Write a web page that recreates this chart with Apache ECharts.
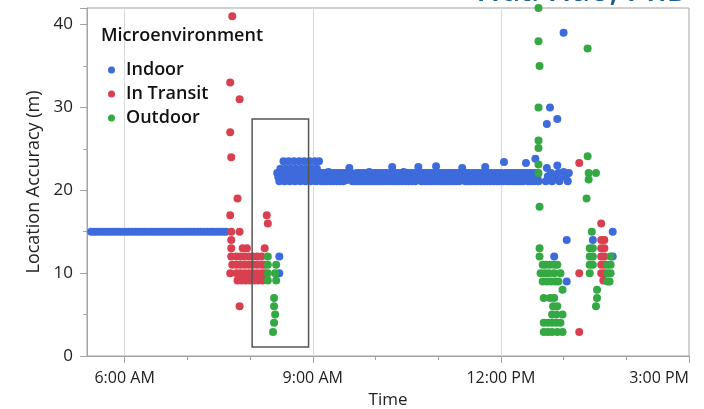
<!DOCTYPE html>
<html>
<head>
<meta charset="utf-8">
<script src="https://cdn.jsdelivr.net/npm/echarts@6/dist/echarts.min.js"></script>
<style>
  html, body { margin: 0; padding: 0; background: #fff; }
  #chart { width: 704px; height: 409px; }
</style>
</head>
<body>
<div id="chart"></div>
<script>
// Time is stored as minutes after midnight, accuracy in metres.
const xLabelTicks = [360, 540, 720, 900];          // 6 AM, 9 AM, 12 PM, 3 PM
const xMinorTicks = [420, 480, 600, 660, 780, 840];
const verticalGrid = [360, 540, 720];
const seriesNames = ['Indoor', 'In Transit', 'Outdoor'];
const highlightBox = [[482, 1.1], [536, 28.6]];    // [time, accuracy] corners

// Indoor fixes: at home before leaving, then the long office stretch, then afternoon.
const indoorHome = [
  [328,15],[331,15],[334,15],[337,15],[340,15],[343,15],[346,15],[349,15],[352,15],[355,15],
  [358,15],[361,15],[364,15],[367,15],[370,15],[373,15],[376,15],[379,15],[382,15],[385,15],
  [388,15],[391,15],[394,15],[397,15],[400,15],[403,15],[406,15],[409,15],[412,15],[415,15],
  [418,15],[421,15],[424,15],[427,15],[430,15],[433,15],[436,15],[439,15],[442,15],[445,15],
  [448,15],[451,15],[454,15],[457,15]
];

const indoorOffice = [
  [506,22.1],[507,21.6],[508,21.1],[509,22.6],[510,21.6],[511,22.1],[512,23.5],[513,21.1],[514,22.6],[515,21.6],
  [516,22.1],[517,23.5],[518,21.1],[519,22.6],[520,21.6],[521,22.1],[522,23.5],[523,21.1],[524,22.6],[525,21.6],
  [526,22.1],[527,23.5],[528,21.1],[529,22.6],[530,21.6],[531,22.1],[532,23.5],[533,21.1],[534,22.6],[535,21.6],
  [536,22.1],[537,23.5],[538,21.1],[539,22.6],[540,21.6],[541,22.1],[542,23.5],[543,21.1],[544,22.6],[545,21.6],
  [546,23.5],[547,22.1],
  [548,21.1],[549,22.1],[550,21.6],[551,21.1],[552,22.1],[553,21.6],[554,21.1],[555,22.2],[556,21.6],[557,21.1],[558,22.1],[559,21.6],
  [560,21.1],[561,22.1],[562,21.5],[563,21.1],[564,22.1],[565,21.6],[566,21.1],[567,22.1],[568,21.6],[569,21.1],[570,22.1],[571,21.6],
  [572,21.2],[573,22.1],[574,21.6],[575,22.7],[576,22.1],[577,21.6],[578,21.1],[579,22.0],[580,21.6],[581,21.1],[582,22.1],[583,21.6],
  [584,21.1],[585,22.1],[586,21.7],[587,21.1],[588,22.1],[589,21.6],[590,21.1],[591,22.1],[592,21.6],[593,21.1],[594,22.2],[595,21.6],
  [596,21.1],[597,22.1],[598,21.6],[599,21.1],[600,22.1],[601,21.6],[602,21.1],[603,22.1],[604,21.6],[605,21.1],[606,22.1],[607,21.6],
  [608,21.1],[609,22.1],[610,21.6],[611,21.1],[612,22.1],[613,21.6],[614,21.1],[615,22.1],[616,22.8],[617,21.1],[618,22.1],[619,21.6],
  [620,21.1],[621,22.1],[622,21.6],[623,21.1],[624,22.1],[625,21.6],[626,21.1],[627,22.2],[628,21.6],[629,21.1],[630,22.1],[631,21.6],
  [632,21.1],[633,22.1],[634,21.6],[635,21.1],[636,22.1],[637,21.6],[638,21.1],[639,22.1],[640,21.6],[641,22.8],[642,22.1],[643,21.6],
  [644,21.1],[645,22.1],[646,21.6],[647,21.1],[648,22.1],[649,21.6],[650,21.1],[651,22.1],[652,21.6],[653,21.1],[654,22.1],[655,21.6],
  [656,21.1],[657,22.1],[658,22.9],[659,21.1],[660,22.1],[661,21.6],[662,21.1],[663,22.1],[664,21.6],[665,21.1],[666,22.1],[667,21.6],
  [668,21.1],[669,22.1],[670,21.6],[671,21.1],[672,22.1],[673,21.6],[674,21.1],[675,22.1],[676,21.6],[677,21.1],[678,22.1],[679,21.6],
  [680,21.1],[681,22.1],[682,21.6],[683,22.7],[684,22.1],[685,21.6],[686,21.1],[687,22.1],[688,21.6],[689,21.1],[690,22.1],[691,21.6],
  [692,21.1],[693,22.1],[694,21.6],[695,21.1],[696,22.1],[697,21.6],[698,21.1],[699,22.1],[700,21.6],[701,21.1],[702,22.1],[703,21.6],
  [704,21.1],[705,22.8],[706,21.6],[707,21.1],[708,22.1],[709,21.6],[710,21.1],[711,22.1],[712,21.6],[713,21.1],[714,22.1],[715,21.6],
  [716,21.1],[717,22.1],[718,21.6],[719,21.1],[720,22.1],[721,21.6],[722,21.1],[723,23.4],[724,22.1],[725,21.6],[726,21.1],[727,22.1],
  [728,21.6],[729,21.1],[730,22.1],[731,21.6],[732,21.1],[733,22.1],[734,21.6],[735,21.1],[736,22.1],[737,21.6],[738,21.1],[739,22.1],
  [740,21.6],[741,21.1],[742,22.1],[743,21.6],[744,23.3],[745,22.1],[746,21.1],[747,21.6],[748,22.1],[749,21.1],[750,21.6],[751,22.1],
  [752,21.1],[753,23.8],[754,22.1],[755,21.6],[756,21.1]
];

const indoorOther = [
  [508,12],[508,10],
  [763,21.1],[764,22.7],[765,21.7],[768,22.1],[769,21.1],[771,21.6],[774,23.0],[775,22.1],[776,21.1],
  [778,21.6],[780,22.2],[783,21.9],[784,21.1],[785,22.1],
  [780,39.0],[767,30.0],[774,28.6],[764,28.0],[783,14.0],[771,12.0],[783,9.0],
  [808,14.0],[827,15.0],[827,12.0]
];

const inTransit = [
  [463,41],[461,33],[470,31],[461,27],[462,24],[468,19],[461,17],[496,17],[497,16],
  [462,15],[470,15],[462,14],
  [462,13],[473,13],[477,13],[494,13],
  [462,12],[467,12],[471,12],[475,12],[479,12],[483,12],[487,12],[491,12],
  [463,11],[467,11],[471,11],[475,11],[479,11],[483,11],[487,11],[491,11],[494,11],
  [461,10],[467,10],[471,10],[475,10],[479,10],[483,10],[487,10],[491,10],[494,10],
  [468,9.1],[472,9.1],[476,9.1],[480,9.1],[484,9.1],[488,9.1],[492,9.1],
  [470,6],
  [795,23.3],[795,10],[795,2.9],
  [816,16],[816,14],[816,13],[816,12],[816,11],[816,10],
  [819,14],[819,13],[819,12],[819,11],[819,10],[818,9.1]
];

const outdoor = [
  [497,12],[497,11],[505,11],[497,10],[504,10],[497,9.1],[505,9.1],
  [503,7],[503,6],[504,5],[503,4],[502,2.9],
  [756,42],[756,38],[757,35],[756,30],[756,26],[756,25.1],[756,23.1],[756,22.1],[757,18],
  [757,13],[757,12],
  [760,11],[763,11],[767,11],[771,11],[774,11],
  [758,10],[762,10],[766,10],[771,10],[777,10],
  [760,9],[764,9],[768,9],[772,9],[775,9],[779,8],
  [761,7],[767,7],[771,7],[770,6],[774,6],[769,5],[773,5],[779,5],
  [761,4],[765,4],[769,4],[773,4],[777,4],[761,2.9],[765,2.9],[769,2.9],[774,2.9],[779,2.9],
  [803,37.1],[803,24.1],[804,22.1],[811,22.1],[804,21.3],[802,19],[807,15],
  [805,13],[805,12],[805,11],[805,10],[808,13],[808,12],[808,11],
  [812,8],[812,7],[811,6],
  [822,11],[822,10],[822,9],[825,12],[825,11],[825,10],[824,9]
];

const indoor = indoorHome.concat(indoorOffice, indoorOther);

const colors = ['#3e6bdb', '#d9404f', '#33a843'];
const FONT = '"Open Sans", "Noto Sans", sans-serif';
const AXIS_GRAY = '#a3a3a3';

function clockLabel(m) {
  const h = Math.floor(m / 60);
  const mm = Math.round(m % 60);
  const suffix = h >= 12 ? 'PM' : 'AM';
  let hh = h % 12;
  if (hh === 0) hh = 12;
  return hh + ':' + String(mm).padStart(2, '0') + ' ' + suffix;
}

const chart = echarts.init(document.getElementById('chart'), null, { renderer: 'canvas' });

const pointSeries = [indoor, inTransit, outdoor].map((data, i) => ({
  name: seriesNames[i],
  type: 'scatter',
  data: data,
  symbol: 'circle',
  symbolSize: 8,
  large: false,
  itemStyle: { color: colors[i], opacity: 1 },
  emphasis: { disabled: true },
  z: 3
}));

chart.setOption({
  animation: false,
  textStyle: { fontFamily: FONT },
  grid: {
    left: 87, right: 15, top: 8, bottom: 53,
    outerBoundsMode: 'none', containLabel: false,
    show: true, borderColor: AXIS_GRAY, borderWidth: 1, backgroundColor: 'transparent'
  },
  title: {
    text: 'Microenvironment',
    left: 101, top: 27, padding: 0,
    textStyle: { fontFamily: FONT, fontSize: 18, fontWeight: 600, color: '#111' }
  },
  legend: {
    data: seriesNames,
    orient: 'vertical',
    left: 108, top: 58, padding: 0,
    icon: 'circle',
    itemWidth: 7, itemHeight: 7, itemGap: 0,
    selectedMode: false,
    textStyle: { fontFamily: FONT, fontSize: 18, lineHeight: 24, fontWeight: 600, color: '#111', padding: [0, 0, 0, 6] }
  },
  graphic: [{
    type: 'text',
    x: 690, y: -8,
    silent: true,
    z: 10,
    style: {
      text: 'Hua Hao, PhD',
      align: 'right', verticalAlign: 'middle',
      font: '600 32px "Open Sans"',
      fill: '#1d5f8e'
    }
  }],
  xAxis: [{
    type: 'value',
    min: 324, max: 900,
    name: 'Time', nameLocation: 'middle', nameGap: 36,
    nameTextStyle: { fontFamily: FONT, fontSize: 17, color: '#222' },
    axisLine: { show: true, lineStyle: { color: AXIS_GRAY, width: 1 } },
    axisTick: { show: true, customValues: xLabelTicks, length: 7, lineStyle: { color: AXIS_GRAY } },
    axisLabel: {
      customValues: xLabelTicks, formatter: clockLabel, alignMaxLabel: 'right',
      fontFamily: FONT, fontSize: 16, color: '#222', margin: 14
    },
    splitLine: { show: false }
  }, {
    type: 'value',
    min: 324, max: 900,
    position: 'bottom',
    axisLine: { show: false },
    axisTick: { show: true, customValues: xMinorTicks, length: 4, lineStyle: { color: AXIS_GRAY } },
    axisLabel: { show: false },
    splitLine: { show: false }
  }],
  yAxis: {
    type: 'value',
    min: 0, max: 42, interval: 10,
    name: 'Location Accuracy (m)', nameLocation: 'middle', nameGap: 44,
    nameTextStyle: { fontFamily: FONT, fontSize: 18, color: '#222' },
    axisLine: { show: true, lineStyle: { color: AXIS_GRAY, width: 1 } },
    axisTick: { show: true, length: 7, lineStyle: { color: AXIS_GRAY } },
    minorTick: { show: true, splitNumber: 2, length: 4, lineStyle: { color: AXIS_GRAY } },
    axisLabel: { fontFamily: FONT, fontSize: 17, color: '#222', margin: 14, showMaxLabel: false },
    splitLine: { show: false }
  },
  series: [
    {
      // light vertical reference lines at the labelled hours
      type: 'scatter', data: [], silent: true, z: 1,
      markLine: {
        silent: true, symbol: 'none', z: 1, animation: false,
        label: { show: false },
        lineStyle: { color: '#d9d9d9', width: 1, type: 'solid' },
        data: verticalGrid.map(v => ({ xAxis: v }))
      }
    },
    ...pointSeries,
    {
      // outline around the morning commute window
      type: 'scatter', data: [], silent: true, z: 6,
      markArea: {
        silent: true, z: 6, animation: false,
        label: { show: false },
        itemStyle: { color: 'rgba(0,0,0,0)', borderColor: '#555', borderWidth: 1.5 },
        data: [[{ coord: highlightBox[0] }, { coord: highlightBox[1] }]]
      }
    }
  ]
});
</script>
</body>
</html>
